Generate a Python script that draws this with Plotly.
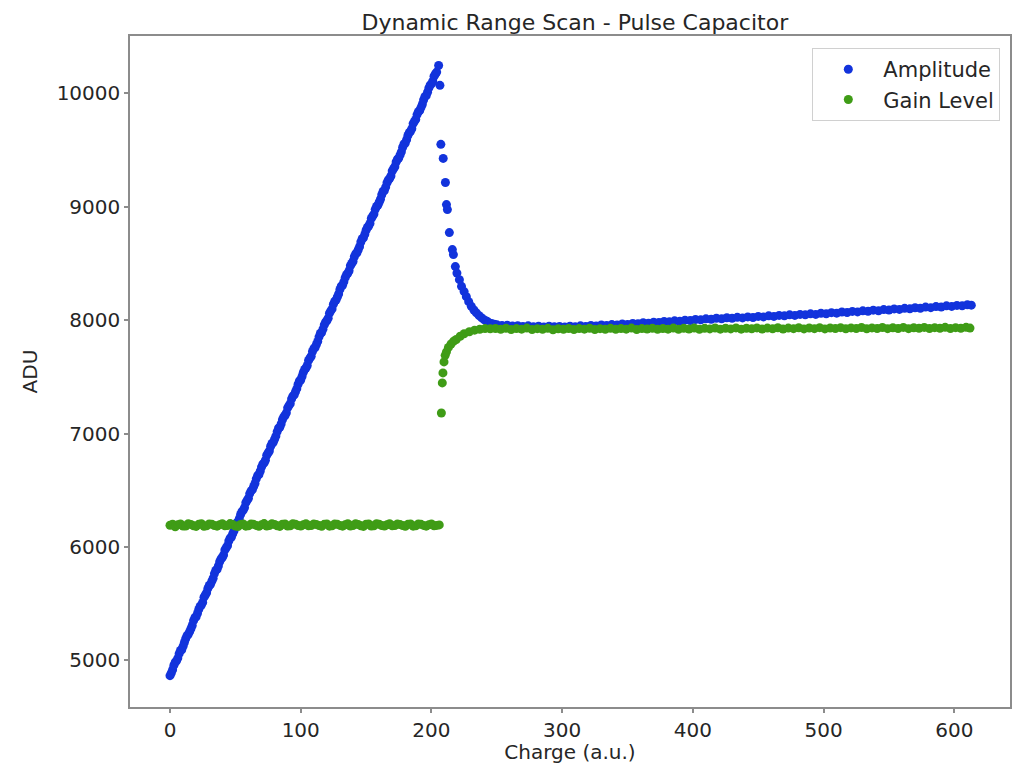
import plotly.graph_objects as go

# ---------------- data ----------------
# Amplitude: linear ramp
amp_ramp_x = [0, 1, 2, 3, 4, 5, 6, 7, 8, 9, 10, 11, 12, 13, 14, 15, 16, 17, 18, 19,
              20, 21, 22, 23, 24, 25, 26, 27, 28, 29, 30, 31, 32, 33, 34, 35, 36, 37, 38, 39,
              40, 41, 42, 43, 44, 45, 46, 47, 48, 49, 50, 51, 52, 53, 54, 55, 56, 57, 58, 59,
              60, 61, 62, 63, 64, 65, 66, 67, 68, 69, 70, 71, 72, 73, 74, 75, 76, 77, 78, 79,
              80, 81, 82, 83, 84, 85, 86, 87, 88, 89, 90, 91, 92, 93, 94, 95, 96, 97, 98, 99,
              100, 101, 102, 103, 104, 105, 106, 107, 108, 109, 110, 111, 112, 113, 114, 115, 116, 117, 118, 119,
              120, 121, 122, 123, 124, 125, 126, 127, 128, 129, 130, 131, 132, 133, 134, 135, 136, 137, 138, 139,
              140, 141, 142, 143, 144, 145, 146, 147, 148, 149, 150, 151, 152, 153, 154, 155, 156, 157, 158, 159,
              160, 161, 162, 163, 164, 165, 166, 167, 168, 169, 170, 171, 172, 173, 174, 175, 176, 177, 178, 179,
              180, 181, 182, 183, 184, 185, 186, 187, 188, 189, 190, 191, 192, 193, 194, 195, 196, 197, 198, 199,
              200, 201, 202, 203, 204, 205.5]
amp_ramp_y = [4866, 4890, 4918, 4959, 4985, 4997, 5021, 5060, 5088, 5095, 5125, 5159, 5192, 5218, 5231, 5254, 5280, 5308, 5351, 5377,
              5386, 5415, 5450, 5477, 5489, 5512, 5558, 5577, 5597, 5636, 5661, 5671, 5699, 5725, 5766, 5794, 5803, 5833, 5870, 5895,
              5908, 5930, 5975, 5994, 6012, 6053, 6079, 6089, 6117, 6143, 6182, 6212, 6221, 6250, 6287, 6312, 6325, 6348, 6391, 6412,
              6430, 6471, 6495, 6506, 6534, 6560, 6601, 6630, 6638, 6668, 6705, 6730, 6742, 6765, 6809, 6829, 6847, 6889, 6913, 6924,
              6951, 6978, 7018, 7047, 7055, 7085, 7122, 7148, 7160, 7183, 7227, 7247, 7264, 7306, 7331, 7341, 7369, 7396, 7435, 7465,
              7473, 7503, 7540, 7565, 7578, 7600, 7645, 7665, 7682, 7724, 7749, 7759, 7786, 7813, 7853, 7882, 7891, 7921, 7958, 7983,
              7995, 8018, 8062, 8082, 8099, 8141, 8166, 8177, 8204, 8231, 8271, 8300, 8308, 8338, 8375, 8400, 8413, 8436, 8480, 8500,
              8517, 8559, 8584, 8594, 8621, 8648, 8689, 8718, 8726, 8756, 8793, 8818, 8830, 8853, 8897, 8917, 8935, 8977, 9002, 9012,
              9039, 9066, 9106, 9135, 9143, 9173, 9211, 9236, 9248, 9271, 9315, 9335, 9352, 9394, 9419, 9429, 9457, 9484, 9524, 9553,
              9561, 9591, 9628, 9653, 9665, 9688, 9733, 9753, 9770, 9812, 9837, 9847, 9874, 9901, 9941, 9970, 9979, 10009, 10046, 10071,
              10083, 10106, 10150, 10170, 10187, 10245]
# Amplitude: drop after the gain switch
amp_drop_x = [206.5, 207.2, 209, 210.7, 211.5, 212.2, 213.7, 216, 216.8, 218.3,
              219.5, 221.4, 223, 225, 226.7, 228.5, 230.5, 232.5, 234.4, 236.5, 238.5, 240.5, 242.5, 244, 246, 248]
amp_drop_y = [10070, 9550, 9426, 9214, 9019, 8975, 8772, 8622, 8578, 8472,
              8415, 8357, 8298, 8252, 8207, 8163, 8122, 8090, 8064, 8040, 8020, 8002, 7990, 7978, 7970, 7964]
# Amplitude: slow rise at high charge
amp_tail_x = [250, 254, 258, 262, 266, 270, 274, 278, 282, 286, 290, 294, 298, 302, 306, 310, 314, 318, 322, 326,
              330, 334, 338, 342, 346, 350, 354, 358, 362, 366, 370, 374, 378, 382, 386, 390, 394, 398, 402, 406,
              410, 414, 418, 422, 426, 430, 434, 438, 442, 446, 450, 454, 458, 462, 466, 470, 474, 478, 482, 486,
              490, 494, 498, 502, 506, 510, 514, 518, 522, 526, 530, 534, 538, 542, 546, 550, 554, 558, 562, 566,
              570, 574, 578, 582, 586, 590, 594, 598, 602, 606, 610, 613]
amp_tail_y = [7960, 7952, 7956, 7948, 7951, 7944, 7950, 7942, 7947, 7940, 7946, 7941, 7945, 7939, 7946, 7942, 7950, 7945, 7953, 7949,
              7957, 7953, 7961, 7958, 7966, 7962, 7971, 7968, 7977, 7973, 7982, 7979, 7988, 7985, 7994, 7990, 8000, 7996, 8006, 8003,
              8012, 8008, 8017, 8012, 8021, 8016, 8025, 8020, 8029, 8024, 8033, 8029, 8038, 8033, 8042, 8038, 8047, 8042, 8051, 8047,
              8056, 8051, 8061, 8057, 8066, 8062, 8072, 8067, 8077, 8073, 8082, 8078, 8088, 8083, 8093, 8089, 8099, 8095, 8104, 8100,
              8109, 8105, 8115, 8110, 8120, 8116, 8126, 8121, 8130, 8126, 8136, 8132]

# Gain Level: low-gain plateau
gain_flat_x = [0, 2, 4, 6, 8, 10, 12, 14, 16, 18, 20, 22, 24, 26, 28, 30, 32, 34, 36, 38,
               40, 42, 44, 46, 48, 50, 52, 54, 56, 58, 60, 62, 64, 66, 68, 70, 72, 74, 76, 78,
               80, 82, 84, 86, 88, 90, 92, 94, 96, 98, 100, 102, 104, 106, 108, 110, 112, 114, 116, 118,
               120, 122, 124, 126, 128, 130, 132, 134, 136, 138, 140, 142, 144, 146, 148, 150, 152, 154, 156, 158,
               160, 162, 164, 166, 168, 170, 172, 174, 176, 178, 180, 182, 184, 186, 188, 190, 192, 194, 196, 198,
               200, 202, 204, 206]
gain_flat_y = [6192, 6201, 6178, 6196, 6203, 6185, 6186, 6206, 6199, 6188, 6182, 6200, 6205, 6183, 6188, 6204, 6201, 6190, 6184, 6197,
               6206, 6187, 6189, 6207, 6198, 6186, 6181, 6199, 6204, 6184, 6187, 6203, 6200, 6191, 6183, 6196, 6207, 6186, 6190, 6205,
               6199, 6188, 6182, 6201, 6203, 6185, 6188, 6206, 6201, 6189, 6185, 6197, 6205, 6187, 6189, 6204, 6198, 6190, 6183, 6200,
               6204, 6184, 6188, 6203, 6200, 6191, 6184, 6197, 6206, 6186, 6190, 6205, 6199, 6188, 6182, 6201, 6203, 6185, 6187, 6206,
               6201, 6189, 6185, 6197, 6205, 6187, 6189, 6204, 6198, 6190, 6183, 6200, 6204, 6184, 6188, 6203, 6200, 6191, 6184, 6197,
               6203, 6187, 6191, 6195]
# Gain Level: jump and settle
gain_rise_x = [207.6, 208.3, 208.8, 209.6, 210.5, 211.5, 213, 215, 217, 219, 222, 225, 229, 233, 237, 241, 245]
gain_rise_y = [7182, 7447, 7535, 7632, 7690, 7721, 7760, 7790, 7815, 7830, 7858, 7880, 7898, 7912, 7920, 7926, 7924]
# Gain Level: high-gain plateau
gain_tail_x = [249, 253, 257, 261, 265, 269, 273, 277, 281, 285, 289, 293, 297, 301, 305, 309, 313, 317, 321, 325,
               329, 333, 337, 341, 345, 349, 353, 357, 361, 365, 369, 373, 377, 381, 385, 389, 393, 397, 401, 405,
               409, 413, 417, 421, 425, 429, 433, 437, 441, 445, 449, 453, 457, 461, 465, 469, 473, 477, 481, 485,
               489, 493, 497, 501, 505, 509, 513, 517, 521, 525, 529, 533, 537, 541, 545, 549, 553, 557, 561, 565,
               569, 573, 577, 581, 585, 589, 593, 597, 601, 605, 609, 612]
gain_tail_y = [7927, 7920, 7929, 7918, 7926, 7921, 7930, 7917, 7925, 7920, 7928, 7916, 7924, 7919, 7927, 7918, 7926, 7921, 7929, 7917,
               7925, 7920, 7928, 7919, 7927, 7921, 7930, 7918, 7926, 7922, 7929, 7919, 7927, 7921, 7930, 7920, 7928, 7922, 7931, 7920,
               7928, 7923, 7931, 7921, 7929, 7923, 7932, 7921, 7929, 7924, 7932, 7922, 7930, 7924, 7933, 7922, 7930, 7925, 7933, 7923,
               7931, 7925, 7934, 7923, 7931, 7926, 7934, 7924, 7932, 7926, 7935, 7924, 7932, 7927, 7935, 7925, 7933, 7927, 7936, 7925,
               7933, 7928, 7936, 7926, 7934, 7928, 7937, 7926, 7934, 7929, 7937, 7930]

x_ticks = [0, 100, 200, 300, 400, 500, 600]
y_ticks = [5000, 6000, 7000, 8000, 9000, 10000]

TITLE = "Dynamic Range Scan - Pulse Capacitor"
X_LABEL = "Charge (a.u.)"
Y_LABEL = "ADU"

amp_x = amp_ramp_x + amp_drop_x + amp_tail_x
amp_y = amp_ramp_y + amp_drop_y + amp_tail_y
gain_x = gain_flat_x + gain_rise_x + gain_tail_x
gain_y = gain_flat_y + gain_rise_y + gain_tail_y

# ---------------- figure ----------------
FONT = "DejaVu Sans"
TXT = "#262626"
BLUE = "#1233dc"
GREEN = "#3f9c16"

fig = go.Figure()
fig.add_trace(go.Scatter(x=amp_x, y=amp_y, mode="markers", name="Amplitude",
                         marker=dict(color=BLUE, size=9, line=dict(width=0))))
fig.add_trace(go.Scatter(x=gain_x, y=gain_y, mode="markers", name="Gain Level",
                         marker=dict(color=GREEN, size=9, line=dict(width=0))))

axis_common = dict(showgrid=False, zeroline=False, showline=True, mirror=True,
                   linecolor="#8c8c8c", linewidth=1.5, ticks="outside", ticklen=4,
                   tickcolor="#8c8c8c", tickwidth=1.5, automargin=False,
                   tickfont=dict(family=FONT, size=20, color=TXT))

# page body adds an 8px offset, so the figure is 8px smaller than the window
fig.update_layout(
    width=1012, height=756,
    paper_bgcolor="white", plot_bgcolor="white",
    margin=dict(l=122, r=10, t=28, b=57),
    title=dict(text=TITLE, xref="paper", x=0.5055, xanchor="center", y=0.9815, yanchor="middle",
               font=dict(family=FONT, size=22, color=TXT)),
    xaxis=dict(range=[-30.6, 642.6], tickvals=x_ticks, ticktext=[str(v) for v in x_ticks],
               title=dict(text=X_LABEL, standoff=7, font=dict(family=FONT, size=20, color=TXT)),
               **axis_common),
    yaxis=dict(range=[4590, 10505], tickvals=y_ticks, ticktext=[str(v) for v in y_ticks],
               title=dict(text=Y_LABEL, standoff=14, font=dict(family=FONT, size=20, color=TXT)),
               **axis_common),
    legend=dict(x=0.989, xanchor="right", y=0.982, yanchor="top", itemwidth=60,
                bgcolor="white", bordercolor="#d0d0d0", borderwidth=1,
                font=dict(family=FONT, size=21, color=TXT)),
    showlegend=True,
)

fig.write_html("out.html")
